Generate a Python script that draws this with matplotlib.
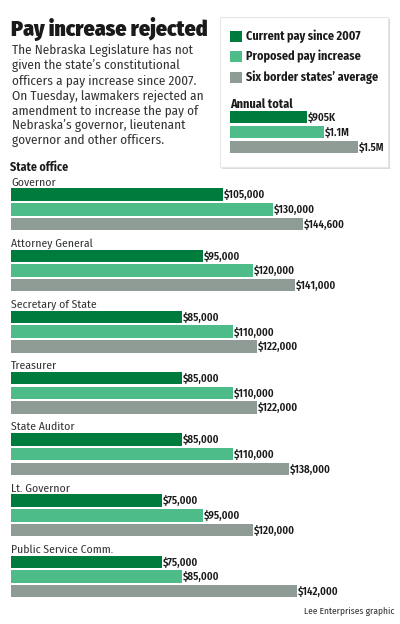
import matplotlib
matplotlib.use('Agg')
import matplotlib.pyplot as plt
from matplotlib.patches import Rectangle

# data
offices = ['Governor', 'Attorney General', 'Secretary of State', 'Treasurer',
           'State Auditor', 'Lt. Governor', 'Public Service Comm.']
current_pay = [105000, 95000, 85000, 85000, 85000, 75000, 75000]
proposed_pay = [130000, 120000, 110000, 110000, 110000, 95000, 85000]
border_avg = [144600, 141000, 122000, 122000, 138000, 120000, 142000]

series_names = ['Current pay since 2007', 'Proposed pay increase', "Six border states\u2019 average"]
annual_totals = [905, 1100, 1500]  # thousands
annual_labels = ['$905K', '$1.1M', '$1.5M']

title = 'Pay increase rejected'
intro = ["The Nebraska Legislature has not",
         "given the state\u2019s constitutional",
         "officers a pay increase since 2007.",
         "On Tuesday, lawmakers rejected an",
         "amendment to increase the pay of",
         "Nebraska\u2019s governor, lieutenant",
         "governor and other officers."]

colors = ['#007b3e', '#4dbc88', '#8f9c95']
W, H = 400, 624
font = ['Fira Sans Condensed', 'DejaVu Sans']

fig = plt.figure(figsize=(W / 100, H / 100), dpi=100)
fig.patch.set_facecolor('white')

# background axes in pixel coordinates for text and the legend box
bg = fig.add_axes([0, 0, 1, 1])
bg.set_xlim(0, W)
bg.set_ylim(H, 0)
bg.axis('off')

bg.text(11, 36, title, fontsize=15.6, fontweight=900, family=font,
        va='baseline', color='#1a1a1a')
for i, line in enumerate(intro):
    bg.text(12, 54.3 + i * 15, line, fontsize=9.5, family=font, va='baseline',
            color='#333333')

# legend box with shadow
bg.add_patch(Rectangle((222, 19), 168, 150, facecolor='#dadada', edgecolor='none', zorder=1))
bg.add_patch(Rectangle((220, 17), 168, 150, facecolor='white', edgecolor='#e6e6e6',
                       lw=0.8, zorder=2))
for i, name in enumerate(series_names):
    yc = 36.2 + i * 20.5
    bg.add_patch(Rectangle((230, yc - 5.5), 12, 11, facecolor=colors[i], edgecolor='none', zorder=3))
    bg.text(246, yc, name, fontsize=8.7, fontweight=700, family=font,
            va='center', color='#1a1a1a', zorder=3)
bg.text(230, 108.3, 'Annual total', fontsize=8.8, fontweight=700, family=font,
        va='baseline', color='#1a1a1a', zorder=3)

bg.text(10, 171, 'State office', fontsize=8.6, fontweight=700, family=font,
        va='baseline', color='#1a1a1a')
bg.text(395, 614, 'Lee Enterprises graphic', fontsize=6.8, family=font,
        ha='right', va='baseline', color='#333333')

# main bars: x=0 at pixel 11, 2.016 px per $1,000
px_per_dollar = 2.016 / 1000
ax = fig.add_axes([11 / W, 0, (W - 11) / W, 1])
ax.set_xlim(0, (W - 11) / px_per_dollar)
ax.set_ylim(H, 0)
ax.axis('off')
ax.patch.set_alpha(0)

group_top = 188.3
group_step = 61.2
bar_step = 14.7
bar_h = 12.5
for g, office in enumerate(offices):
    top = group_top + g * group_step
    ax.text(0, top - 2.6, office, fontsize=8.4, family=font,
            va='baseline', color='#333333')
    for s, vals in enumerate([current_pay, proposed_pay, border_avg]):
        yc = top + s * bar_step + bar_h / 2
        ax.barh(yc, vals[g], height=bar_h, color=colors[s], edgecolor='none')
        ax.text(vals[g] + 500, yc + 0.6, '${:,}'.format(vals[g]), fontsize=7.8,
                fontweight=600, family=font, va='center', color='#1a1a1a')

# annual totals inset: x=0 at pixel 230, 0.085 px per $1K
mini_left, mini_right = 230, 386
mini_top, mini_bottom = 111, 155
ax2 = fig.add_axes([mini_left / W, 1 - mini_bottom / H,
                    (mini_right - mini_left) / W, (mini_bottom - mini_top) / H])
ax2.set_xlim(0, (mini_right - mini_left) / 0.085)
ax2.set_ylim(mini_bottom - mini_top, 0)
ax2.axis('off')
ax2.patch.set_alpha(0)
ax2.set_zorder(5)
for i, val in enumerate(annual_totals):
    yc = 6 + i * 15
    ax2.barh(yc, val, height=11.2, color=colors[i], edgecolor='none')
    ax2.text(val + 12, yc + 0.5, annual_labels[i], fontsize=7.8, fontweight=600,
             family=font, va='center', color='#1a1a1a')

fig.savefig('out.png', dpi=100)
